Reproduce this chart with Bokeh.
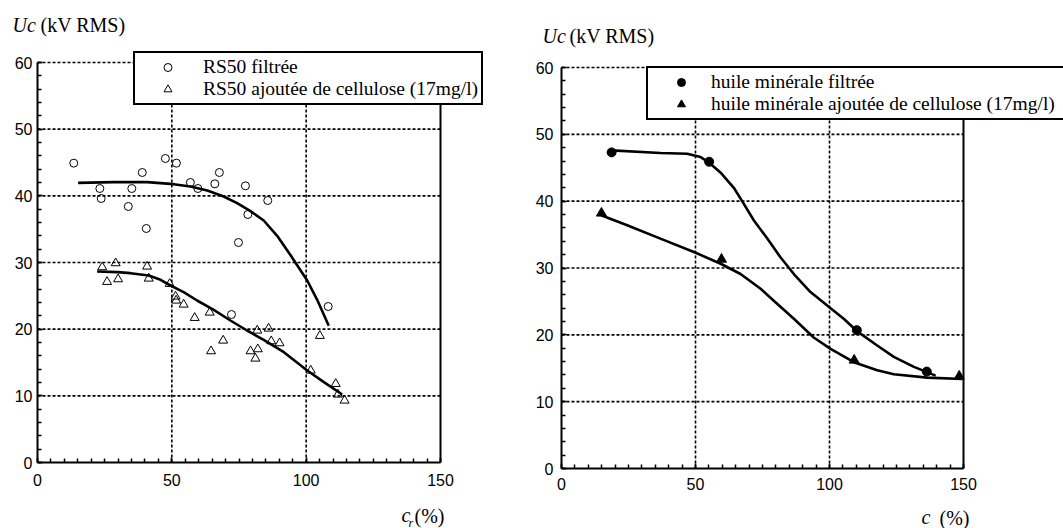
from bokeh.plotting import figure
from bokeh.models import Range1d, SingleIntervalTicker, Label, Legend, LegendItem, Spacer
from bokeh.layouts import row, column
from bokeh.embed import file_html
from bokeh.resources import INLINE

# ---------------- data ----------------
# left panel: RS50
rs50_filt_x = [13.5, 23.2, 23.7, 33.8, 35.1, 39.0, 40.5, 47.6, 51.7, 56.9, 59.7, 66.0, 67.7, 72.2, 74.8, 77.4, 78.3, 85.7, 108.2]
rs50_filt_y = [44.9, 41.1, 39.6, 38.4, 41.1, 43.5, 35.1, 45.6, 44.9, 42.0, 41.1, 41.8, 43.5, 22.2, 33.0, 41.5, 37.2, 39.3, 23.4]
rs50_cell_x = [24.1, 29.1, 40.8, 25.9, 30.0, 41.4, 49.2, 51.4, 51.6, 54.4, 58.5, 64.1, 64.6, 69.1, 79.3, 81.8, 82.0, 81.1, 86.0, 87.0, 90.1, 101.7, 105.1, 111.0, 111.8, 114.3]
rs50_cell_y = [29.3, 29.9, 29.4, 27.1, 27.5, 27.6, 26.8, 24.9, 24.3, 23.7, 21.7, 22.5, 16.7, 18.3, 16.7, 19.8, 17.0, 15.6, 20.1, 18.2, 17.9, 13.8, 19.0, 11.8, 10.2, 9.3]
rs50_filt_fit_x = [15.1, 28.4, 40.8, 50.7, 56.9, 63.2, 69.3, 74.3, 79.3, 84.2, 89.2, 94.2, 100.4, 104.1, 108.4]
rs50_filt_fit_y = [41.95, 42.05, 42.05, 41.75, 41.4, 40.8, 39.9, 38.9, 37.7, 36.3, 34.0, 31.1, 27.3, 24.4, 20.5]
rs50_cell_fit_x = [22.2, 29.7, 34.6, 41.4, 45.8, 49.5, 54.4, 59.4, 65.6, 71.8, 78.0, 84.2, 91.7, 100.4, 106.6, 113.4]
rs50_cell_fit_y = [28.65, 28.55, 28.4, 28.05, 27.4, 26.55, 25.55, 24.3, 22.9, 21.3, 19.8, 18.4, 16.55, 13.8, 12.05, 10.2]

# right panel: huile minerale
min_filt_x = [18.7, 55.1, 110.2, 136.3]
min_filt_y = [47.3, 45.9, 20.7, 14.5]
min_cell_x = [14.9, 59.7, 109.2, 148.4]
min_cell_y = [38.2, 31.3, 16.2, 13.8]
min_filt_fit_x = [18.7, 36.9, 46.9, 51.9, 55.0, 59.3, 64.3, 67.4, 71.8, 76.8, 81.7, 86.7, 92.9, 100.3, 105.3, 110.1, 117.8, 124.0, 131.5, 139.6]
min_filt_fit_y = [47.6, 47.2, 47.1, 46.6, 45.8, 44.3, 42.0, 40.0, 37.1, 34.4, 31.6, 29.1, 26.4, 24.0, 22.4, 20.6, 18.4, 16.7, 15.2, 13.9]
min_cell_fit_x = [14.8, 24.5, 36.9, 49.4, 59.6, 66.8, 74.3, 79.2, 86.7, 94.1, 100.4, 109.1, 117.8, 124.0, 136.4, 149.5]
min_cell_fit_y = [37.9, 36.4, 34.4, 32.4, 30.6, 29.1, 26.9, 25.1, 22.4, 19.6, 17.9, 15.9, 14.7, 14.1, 13.6, 13.4]

labels_left = ["RS50 filtrée", "RS50 ajoutée de cellulose (17mg/l)"]
labels_right = ["huile minérale filtrée", "huile minérale ajoutée de cellulose (17mg/l)"]

# axis extents and grid positions
X_MAX, Y_MAX = 150, 60
grid_x = [50, 100]
grid_y = [10, 20, 30, 40, 50, 60]

SERIF = "Liberation Serif"
PAGE_W = 1063
HEAD_H, MAIN_H, FOOT_H = 48, 456, 24
RIGHT_SHIFT = 6


def make_fig(w, h, bl, bb, x_end, y_end, y_standoff, x_standoff):
    p = figure(width=w, height=h, x_range=Range1d(0, x_end), y_range=Range1d(0, y_end),
               output_backend="svg", toolbar_location=None,
               min_border_left=bl, min_border_right=0, min_border_top=0, min_border_bottom=bb)
    p.title.visible = False
    p.outline_line_color = None
    p.background_fill_color = "white"
    p.border_fill_color = "white"
    p.grid.visible = False
    p.xaxis.ticker = SingleIntervalTicker(interval=50, num_minor_ticks=10)
    p.yaxis.ticker = SingleIntervalTicker(interval=10, num_minor_ticks=5)
    p.xaxis.bounds = (0, X_MAX)
    p.yaxis.bounds = (0, Y_MAX)
    for ax in (p.xaxis[0], p.yaxis[0]):
        ax.axis_line_width = 2
        ax.axis_line_color = "black"
        ax.major_tick_in = 5
        ax.major_tick_out = 0
        ax.minor_tick_in = 4
        ax.minor_tick_out = 0
        ax.major_tick_line_width = 1.5
        ax.minor_tick_line_width = 1.5
        ax.major_tick_line_color = "black"
        ax.minor_tick_line_color = "black"
        ax.major_label_text_font = "Liberation Sans"
        ax.major_label_text_font_size = "16px"
        ax.major_label_text_color = "black"
    p.xaxis.major_label_standoff = x_standoff
    p.yaxis.major_label_standoff = y_standoff
    # dotted grid limited to the data box, solid right edge
    p.segment(x0=grid_x, y0=[0] * len(grid_x), x1=grid_x, y1=[Y_MAX] * len(grid_x),
              line_color="black", line_width=1.6, line_dash="3 2")
    p.segment(x0=[0] * len(grid_y), y0=grid_y, x1=[X_MAX] * len(grid_y), y1=grid_y,
              line_color="black", line_width=1.6, line_dash="3 2")
    p.segment(x0=[X_MAX], y0=[0], x1=[X_MAX], y1=[Y_MAX], line_color="black", line_width=2)
    return p


def text_strip(h, y_top):
    s = figure(width=PAGE_W, height=h, x_range=Range1d(0, PAGE_W), y_range=Range1d(y_top + h, y_top),
               x_axis_type=None, y_axis_type=None, output_backend="svg", toolbar_location=None,
               min_border=0, min_border_left=0, min_border_right=0, min_border_top=0, min_border_bottom=0)
    s.title.visible = False
    s.outline_line_color = None
    s.background_fill_color = "white"
    s.border_fill_color = "white"
    return s


def lab(s, text, x, y, size="20px", style="normal"):
    s.add_layout(Label(x=x, y=y, text=text, text_font=SERIF, text_font_size=size,
                       text_font_style=style, text_align="left", text_baseline="middle",
                       text_color="black"))


# ---------------- header: y-axis titles ----------------
head = text_strip(HEAD_H, 0)
lab(head, "Uc", 12, 24, style="italic")
lab(head, "(kV RMS)", 40, 24)
lab(head, "Uc", 542, 35, style="italic")
lab(head, "(kV RMS)", 569, 35)

# ---------------- left panel ----------------
p1 = make_fig(500, MAIN_H, 37, 42, 463 * 150 / 403, 414 * 60 / 400, 5, 11)
p1.line(rs50_filt_fit_x, rs50_filt_fit_y, line_color="black", line_width=2.6)
p1.line(rs50_cell_fit_x, rs50_cell_fit_y, line_color="black", line_width=2.6)
r1 = p1.scatter(rs50_filt_x, rs50_filt_y, marker="circle", size=8, fill_color=None, line_color="black", line_width=1)
r2 = p1.scatter(rs50_cell_x, rs50_cell_y, marker="triangle", size=9, fill_color=None, line_color="black", line_width=1)
leg1 = Legend(items=[LegendItem(label=labels_left[0], renderers=[r1]),
                     LegendItem(label=labels_left[1], renderers=[r2])],
              location=(96, 357), margin=0, padding=3, spacing=0,
              glyph_width=59, glyph_height=20, label_height=20, label_standoff=6, label_width=275,
              label_text_font=SERIF, label_text_font_size="19.5px", label_text_color="black",
              border_line_color="black", border_line_width=2, border_line_alpha=1,
              background_fill_color="white", background_fill_alpha=1)
p1.add_layout(leg1)

# ---------------- right panel ----------------
p2 = make_fig(563, MAIN_H - RIGHT_SHIFT, 61, 36, 502 * 150 / 402, 414 * 60 / 401, 8, 9)
p2.line(min_filt_fit_x, min_filt_fit_y, line_color="black", line_width=2.6)
p2.line(min_cell_fit_x, min_cell_fit_y, line_color="black", line_width=2.6)
r3 = p2.scatter(min_filt_x, min_filt_y, marker="circle", size=9, fill_color="black", line_color="black")
r4 = p2.scatter(min_cell_x, min_cell_y, marker="triangle", size=10, fill_color="black", line_color="black")
leg2 = Legend(items=[LegendItem(label=labels_right[0], renderers=[r3]),
                     LegendItem(label=labels_right[1], renderers=[r4])],
              location=(85, 348), margin=0, padding=3, spacing=0,
              glyph_width=60, glyph_height=20, label_height=20, label_standoff=0, label_width=400,
              label_text_font=SERIF, label_text_font_size="19.5px", label_text_color="black",
              border_line_color="black", border_line_width=2, border_line_alpha=1,
              background_fill_color="white", background_fill_alpha=1)
p2.add_layout(leg2)

# ---------------- footer: x-axis titles ----------------
foot = text_strip(FOOT_H, HEAD_H + MAIN_H)
lab(foot, "c", 401, 514, style="italic")
lab(foot, "r", 408, 522, size="12px", style="italic")
lab(foot, "(%)", 414, 515)
lab(foot, "c", 921, 516, style="italic")
lab(foot, "(%)", 939, 517)

right_col = column(Spacer(width=563, height=RIGHT_SHIFT), p2)
layout = column(head, row(p1, right_col), foot)
open("out.html", "w").write(file_html(layout, INLINE))
